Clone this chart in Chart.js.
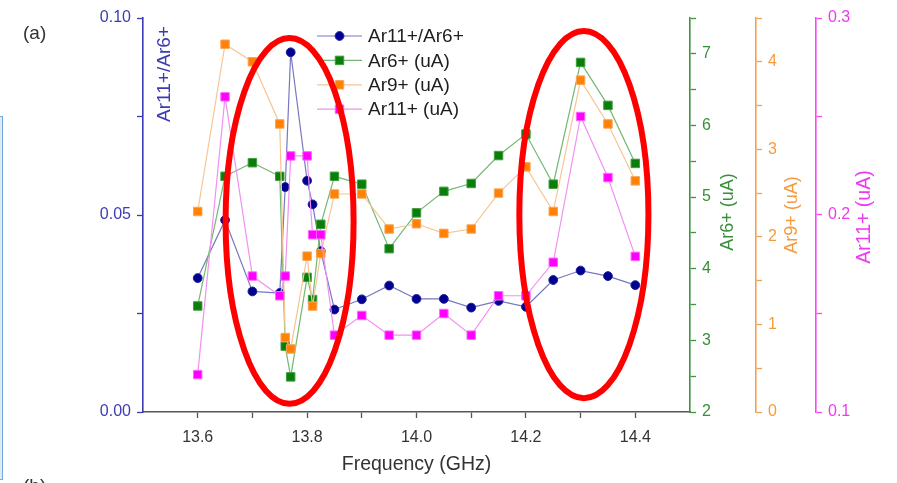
<!DOCTYPE html>
<html>
<head>
<meta charset="utf-8">
<title>Ar charge states vs frequency</title>
<script src="https://cdn.jsdelivr.net/npm/chart.js@4/dist/chart.umd.min.js"></script>
<style>
  html, body { margin: 0; padding: 0; background: #fff; overflow: hidden; }
  #wrap { position: relative; width: 897px; height: 483px; overflow: hidden; }
  #c { position: absolute; left: 0; top: 0; }
  .panel { position: absolute; font-family: "Liberation Sans", Arial, sans-serif; font-size: 19px; line-height: 19px; color: #333; }
  #sidebox { position: absolute; left: -20px; top: 116px; width: 21px; height: 362px; background: #dfeaf7; border: 1.5px solid #72a8dc; }
</style>
</head>
<body>
<div id="wrap">
  <canvas id="c" width="897" height="483"></canvas>
  <div id="sidebox"></div>
  <div class="panel" style="left:23px; top:23px;">(a)</div>
  <div class="panel" style="left:23px; top:476px;">(b)</div>
</div>
<script>
// Measured frequencies (GHz)
const frequency = [13.6, 13.65, 13.7, 13.75, 13.76, 13.77, 13.8, 13.81, 13.825, 13.85, 13.9,
                   13.95, 14.0, 14.05, 14.1, 14.15, 14.2, 14.25, 14.3, 14.35, 14.4];

// Ar11+/Ar6+ current ratio
const ratioAr11Ar6 = [0.0340, 0.0487, 0.0306, 0.0302, 0.0571, 0.0913, 0.0587, 0.0527, 0.0408, 0.0260, 0.0286,
                      0.0321, 0.0287, 0.0287, 0.0265, 0.0282, 0.0267, 0.0335, 0.0359, 0.0345, 0.0322];

// Extracted currents (uA)
const ar6Current = [3.48, 5.29, 5.48, 5.29, 2.92, 2.49, 3.88, 3.57, 4.62, 5.29, 5.18,
                    4.28, 4.78, 5.08, 5.19, 5.58, 5.88, 5.18, 6.88, 6.28, 5.47];
const ar9Current = [2.29, 4.20, 4.00, 3.29, 0.85, 0.72, 1.78, 1.21, 1.81, 2.49, 2.49,
                    2.09, 2.15, 2.04, 2.09, 2.50, 2.80, 2.29, 3.79, 3.29, 2.64];
const ar11Current = [0.119, 0.260, 0.169, 0.159, 0.169, 0.230, 0.230, 0.190, 0.190, 0.139, 0.149,
                     0.139, 0.139, 0.150, 0.139, 0.159, 0.159, 0.176, 0.250, 0.219, 0.179];

// Series names
const seriesLabels = ['Ar11+/Ar6+', 'Ar6+ (uA)', 'Ar9+ (uA)', 'Ar11+ (uA)'];

// Axis ranges and titles
const xRange = [13.5, 14.5];
const ratioRange = [0, 0.10];
const ar6Range = [2, 7.5];
const ar9Range = [0, 4.5];
const ar11Range = [0.1, 0.3];
const axisTitles = { x: 'Frequency (GHz)', y: 'Ar11+/Ar6+', y6: 'Ar6+ (uA)', y9: 'Ar9+ (uA)', y11: 'Ar11+ (uA)' };

// Highlighted regions: frequency span and ratio-axis span of each ellipse
const highlightFreq = [[13.651, 13.885], [14.188, 14.424]];
const highlightRatio = [[0.0021, 0.0949], [0.0035, 0.0967]];

const FONT = '"Liberation Sans", Arial, sans-serif';

const colors = {
  blue:    { axis: '#3b3bb5', text: '#3c3cb2', line: '#7777c0', fill: '#00008f', edge: '#1c1ca0' },
  green:   { axis: '#3a963a', text: '#3a8f3a', line: '#74b874', fill: '#0a7d0a', edge: '#3f9f3f' },
  orange:  { axis: '#f7a04a', text: '#f59b3f', line: '#f6c592', fill: '#ff8205', edge: '#f9a55a' },
  magenta: { axis: '#ff40ff', text: '#ee3aee', line: '#f290f2', fill: '#ff00ff', edge: '#ff66ff' }
};

function points(ys) { return frequency.map((f, i) => ({ x: f, y: ys[i] })); }

function near(v, step) { return Math.abs(v / step - Math.round(v / step)) < 1e-6; }

function yAxis(range, step, labelStep, digits, c, position, weight, width) {
  return {
    type: 'linear',
    position: position,
    weight: weight,
    min: range[0],
    max: range[1],
    ticks: {
      stepSize: step,
      autoSkip: false,
      color: c.text,
      padding: 6,
      font: { family: FONT, size: 16 },
      callback: v => near(v, labelStep) ? v.toFixed(digits) : ''
    },
    grid: { drawOnChartArea: false, color: c.axis, tickLength: 6, tickWidth: 1.3 },
    border: { color: c.axis, width: 1.6 },
    afterFit: s => { s.width = width; }
  };
}

const datasets = [
  {
    label: seriesLabels[0], data: points(ratioAr11Ar6), yAxisID: 'y', order: 4,
    borderColor: colors.blue.line, borderWidth: 1.2,
    pointStyle: 'circle', pointRadius: 4.4, pointBorderWidth: 1,
    pointBackgroundColor: colors.blue.fill, pointBorderColor: colors.blue.edge
  },
  {
    label: seriesLabels[1], data: points(ar6Current), yAxisID: 'y6', order: 3,
    borderColor: colors.green.line, borderWidth: 1.2,
    pointStyle: 'rect', pointRadius: 6, pointBorderWidth: 1,
    pointBackgroundColor: colors.green.fill, pointBorderColor: colors.green.edge
  },
  {
    label: seriesLabels[2], data: points(ar9Current), yAxisID: 'y9', order: 2,
    borderColor: colors.orange.line, borderWidth: 1.2,
    pointStyle: 'rect', pointRadius: 6, pointBorderWidth: 1,
    pointBackgroundColor: colors.orange.fill, pointBorderColor: colors.orange.edge
  },
  {
    label: seriesLabels[3], data: points(ar11Current), yAxisID: 'y11', order: 1,
    borderColor: colors.magenta.line, borderWidth: 1.2,
    pointStyle: 'rect', pointRadius: 6, pointBorderWidth: 1,
    pointBackgroundColor: colors.magenta.fill, pointBorderColor: colors.magenta.edge
  }
];

// Axis titles, inset legend and highlight ellipses
const decorations = {
  id: 'decorations',
  afterDraw(chart) {
    const ctx = chart.ctx;
    const area = chart.chartArea;
    const s = chart.scales;

    function vtext(text, x, y, color, size) {
      ctx.save();
      ctx.translate(x, y);
      ctx.rotate(-Math.PI / 2);
      ctx.font = size + 'px ' + FONT;
      ctx.fillStyle = color;
      ctx.textAlign = 'center';
      ctx.textBaseline = 'middle';
      ctx.fillText(text, 0, 0);
      ctx.restore();
    }

    // axis titles (rotated to read upwards on every side)
    const midY = (area.top + area.bottom) / 2;
    vtext(axisTitles.y, area.left + 22, area.top + 56, colors.blue.text, 19);
    vtext(axisTitles.y6, s.y6.left + 38, midY - 3, colors.green.text, 18);
    vtext(axisTitles.y9, s.y9.left + 36, midY, colors.orange.text, 18);
    vtext(axisTitles.y11, s.y11.left + 49, midY + 2, colors.magenta.text, 19.5);

    ctx.save();
    ctx.font = '19.5px ' + FONT;
    ctx.fillStyle = '#333';
    ctx.textAlign = 'center';
    ctx.textBaseline = 'middle';
    ctx.fillText(axisTitles.x, (area.left + area.right) / 2, 465);
    ctx.restore();

    // legend inside the plot: line sample, marker, label
    const lx0 = 317, lx1 = 362, ly0 = 36, lstep = 24.4;
    chart.data.datasets.forEach((ds, i) => {
      const y = ly0 + i * lstep;
      ctx.save();
      ctx.strokeStyle = ds.borderColor;
      ctx.lineWidth = ds.borderWidth;
      ctx.beginPath();
      ctx.moveTo(lx0, y);
      ctx.lineTo(lx1, y);
      ctx.stroke();
      ctx.fillStyle = ds.pointBackgroundColor;
      ctx.strokeStyle = ds.pointBorderColor;
      ctx.lineWidth = 1;
      Chart.helpers.drawPoint(ctx, { pointStyle: ds.pointStyle, radius: ds.pointRadius, rotation: 0, borderWidth: 1 }, (lx0 + lx1) / 2, y);
      ctx.fillStyle = '#1e1e1e';
      ctx.font = '19px ' + FONT;
      ctx.textAlign = 'left';
      ctx.textBaseline = 'middle';
      ctx.fillText(ds.label, 368, y + 1);
      ctx.restore();
    });

    // highlight ellipses, positioned through the axis scales
    ctx.save();
    ctx.strokeStyle = '#ff0000';
    ctx.lineWidth = 6;
    highlightFreq.forEach((fr, i) => {
      const x0 = s.x.getPixelForValue(fr[0]);
      const x1 = s.x.getPixelForValue(fr[1]);
      const y0 = s.y.getPixelForValue(highlightRatio[i][1]);
      const y1 = s.y.getPixelForValue(highlightRatio[i][0]);
      ctx.beginPath();
      ctx.ellipse((x0 + x1) / 2, (y0 + y1) / 2, (x1 - x0) / 2, (y1 - y0) / 2, 0, 0, Math.PI * 2);
      ctx.stroke();
    });
    ctx.restore();
  }
};

new Chart(document.getElementById('c'), {
  type: 'line',
  data: { datasets },
  options: {
    responsive: false,
    animation: false,
    layout: { padding: { top: 18, right: 0, bottom: 0, left: 0 } },
    plugins: { legend: { display: false }, tooltip: { enabled: false } },
    elements: { line: { tension: 0 } },
    scales: {
      x: {
        type: 'linear',
        position: 'bottom',
        min: xRange[0],
        max: xRange[1],
        ticks: {
          stepSize: 0.1,
          autoSkip: false,
          maxRotation: 0,
          color: '#333',
          padding: 10,
          font: { family: FONT, size: 16 },
          callback: v => (near(v, 0.2) && v > xRange[0] + 0.01 && v < xRange[1] - 0.01) ? v.toFixed(1) : ''
        },
        grid: {
          drawOnChartArea: false,
          tickLength: 6,
          tickWidth: 1.3,
          color: ctx => (ctx.tick && (ctx.tick.value <= xRange[0] + 1e-6 || ctx.tick.value >= xRange[1] - 1e-6)) ? 'rgba(0,0,0,0)' : '#555'
        },
        border: { color: '#555', width: 1.6 },
        afterFit: s => { s.height = 71; }
      },
      y: yAxis(ratioRange, 0.025, 0.05, 2, colors.blue, 'left', 0, 143),
      y6: yAxis(ar6Range, 0.5, 1, 0, colors.green, 'right', 0, 66),
      y9: yAxis(ar9Range, 0.5, 1, 0, colors.orange, 'right', 1, 60),
      y11: yAxis(ar11Range, 0.05, 0.1, 1, colors.magenta, 'right', 2, 81)
    }
  },
  plugins: [decorations]
});
</script>
</body>
</html>
